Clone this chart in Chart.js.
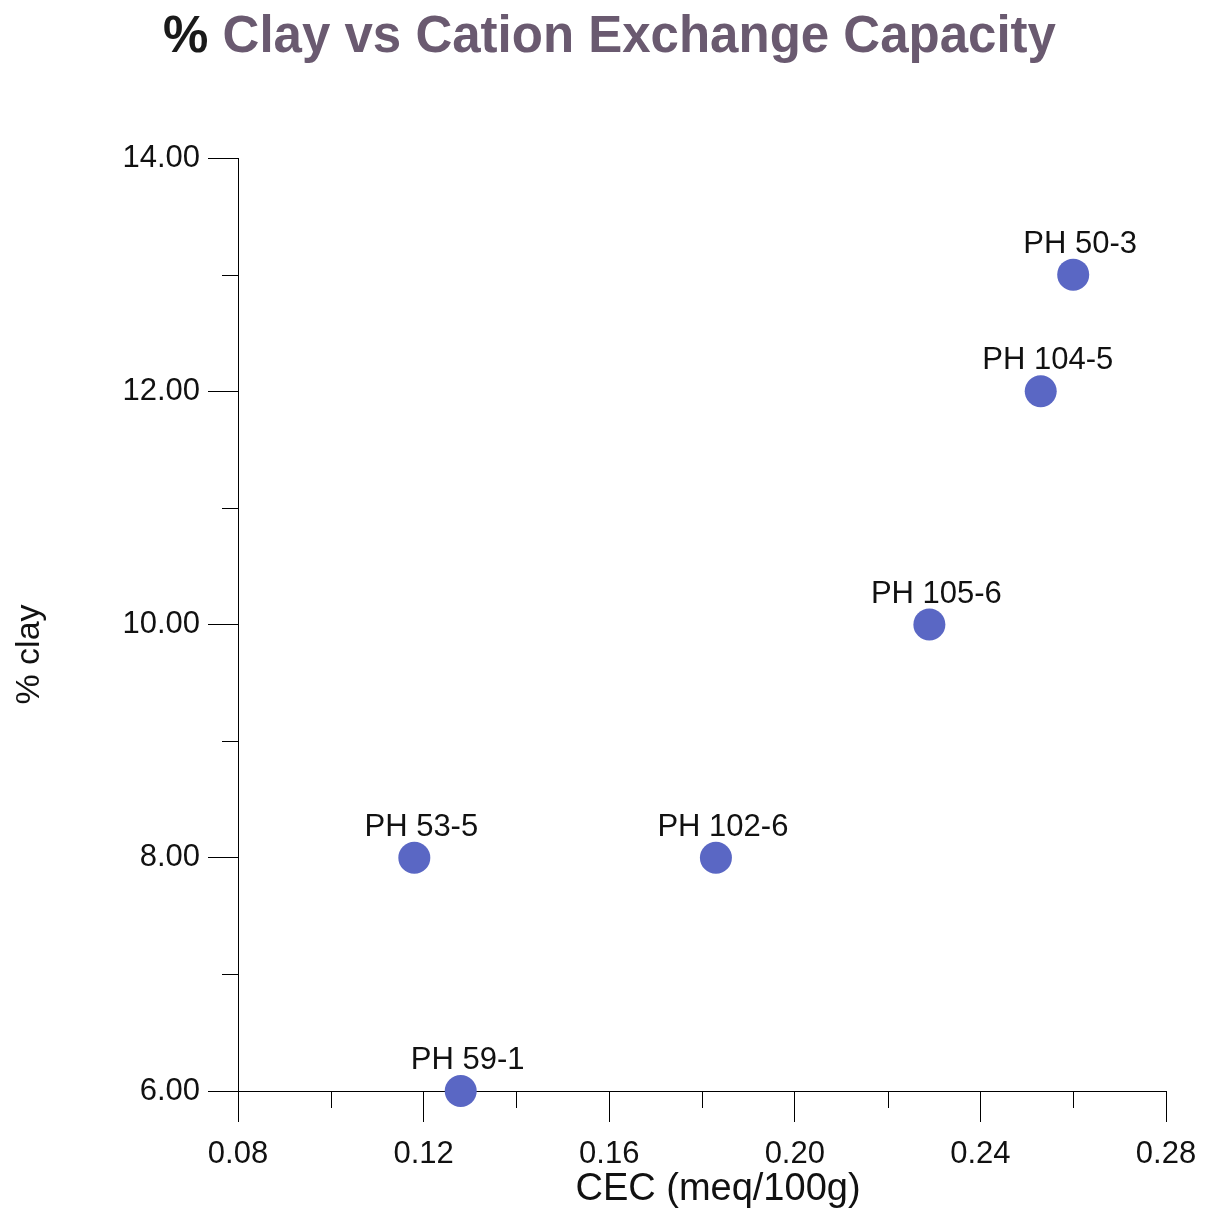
<!DOCTYPE html>
<html>
<head>
<meta charset="utf-8">
<script src="https://cdn.jsdelivr.net/npm/chart.js@4.4.0/dist/chart.umd.min.js"></script>
<style>
  html, body { margin: 0; padding: 0; background: #ffffff; }
  #wrap { width: 1219px; height: 1213px; position: relative; }
</style>
</head>
<body>
<div id="wrap"><canvas id="c" width="1219" height="1213"></canvas></div>
<script>
// Soil samples: cation exchange capacity vs clay content
const sampleNames = ['PH 50-3', 'PH 104-5', 'PH 105-6', 'PH 53-5', 'PH 102-6', 'PH 59-1'];
const cecValues   = [0.260, 0.253, 0.229, 0.118, 0.183, 0.128];
const clayValues  = [13, 12, 10, 8, 8, 6];

const xMajorTicks = [0.08, 0.12, 0.16, 0.20, 0.24, 0.28];
const xMinorTicks = [0.10, 0.14, 0.18, 0.22, 0.26];
const yMajorTicks = [6, 8, 10, 12, 14];
const yMinorTicks = [7, 9, 11, 13];

const chartTitle = '% Clay vs Cation Exchange Capacity';
const xTitle = 'CEC (meq/100g)';
const yTitle = '% clay';

const FONT = '"Liberation Sans", Arial, Helvetica, sans-serif';

const points = cecValues.map((v, i) => ({ x: v, y: clayValues[i] }));

// Minor ticks, axis titles, chart title and point labels
const decorations = {
  id: 'decorations',
  afterDatasetsDraw(chart) {
    const ctx = chart.ctx;
    const xs = chart.scales.x, ys = chart.scales.y;
    const area = chart.chartArea;
    ctx.save();
    ctx.strokeStyle = '#000';
    ctx.lineWidth = 1;
    ctx.beginPath();
    xMinorTicks.forEach(v => {
      const px = Math.round(xs.getPixelForValue(v)) + 0.5;
      ctx.moveTo(px, area.bottom);
      ctx.lineTo(px, area.bottom + 17);
    });
    yMinorTicks.forEach(v => {
      const py = Math.round(ys.getPixelForValue(v)) + 0.5;
      ctx.moveTo(area.left - 16, py);
      ctx.lineTo(area.left, py);
    });
    ctx.stroke();

    // point labels
    ctx.fillStyle = '#111';
    ctx.font = '31px ' + FONT;
    ctx.textAlign = 'center';
    ctx.textBaseline = 'alphabetic';
    const meta = chart.getDatasetMeta(0);
    meta.data.forEach((el, i) => {
      ctx.fillText(sampleNames[i], el.x + 7, el.y - 22);
    });

    // x axis title
    ctx.font = '38px ' + FONT;
    ctx.fillText(xTitle, (area.left + area.right) / 2 + 16, 1200);

    // y axis title (rotated)
    ctx.save();
    ctx.translate(39, (area.top + area.bottom) / 2 + 30);
    ctx.rotate(-Math.PI / 2);
    ctx.font = '34px ' + FONT;
    ctx.fillText(yTitle, 0, 0);
    ctx.restore();

    // chart title: black percent sign, muted purple text
    ctx.font = 'bold 51px ' + FONT;
    ctx.textAlign = 'left';
    const pct = '% ';
    const rest = chartTitle.slice(2);
    const wAll = ctx.measureText(chartTitle).width;
    const x0 = chart.width / 2 - wAll / 2;
    ctx.fillStyle = '#1a1a1a';
    ctx.fillText(pct, x0, 52);
    ctx.fillStyle = '#6a5a70';
    ctx.fillText(rest, x0 + ctx.measureText(pct).width, 52);
    ctx.restore();
  }
};

new Chart(document.getElementById('c'), {
  type: 'scatter',
  data: {
    datasets: [{
      data: points,
      backgroundColor: '#5a67c4',
      borderColor: '#5a67c4',
      pointRadius: 16,
      pointHoverRadius: 16,
      borderWidth: 0,
      clip: false
    }]
  },
  options: {
    responsive: false,
    animation: false,
    devicePixelRatio: 1,
    layout: { padding: { top: 158, right: 53, left: 0, bottom: 0 } },
    plugins: {
      legend: { display: false },
      tooltip: { enabled: false },
      title: { display: false }
    },
    scales: {
      x: {
        type: 'linear',
        min: 0.08,
        max: 0.28,
        afterFit(scale) { scale.height = 122; },
        afterBuildTicks(scale) { scale.ticks = xMajorTicks.map(v => ({ value: v })); },
        ticks: {
          color: '#111',
          font: { family: FONT, size: 31 },
          padding: 14,
          maxRotation: 0,
          callback: v => Number(v).toFixed(2)
        },
        grid: { drawOnChartArea: false, drawTicks: true, tickLength: 31, color: '#000', lineWidth: 1 },
        border: { display: true, color: '#000', width: 1 }
      },
      y: {
        type: 'linear',
        min: 6,
        max: 14,
        afterFit(scale) { scale.width = 238; },
        afterBuildTicks(scale) { scale.ticks = yMajorTicks.map(v => ({ value: v })); },
        ticks: {
          color: '#111',
          font: { family: FONT, size: 31 },
          padding: 8,
          callback: v => Number(v).toFixed(2)
        },
        grid: { drawOnChartArea: false, drawTicks: true, tickLength: 30, color: '#000', lineWidth: 1 },
        border: { display: true, color: '#000', width: 1 }
      }
    }
  },
  plugins: [decorations]
});
</script>
</body>
</html>
